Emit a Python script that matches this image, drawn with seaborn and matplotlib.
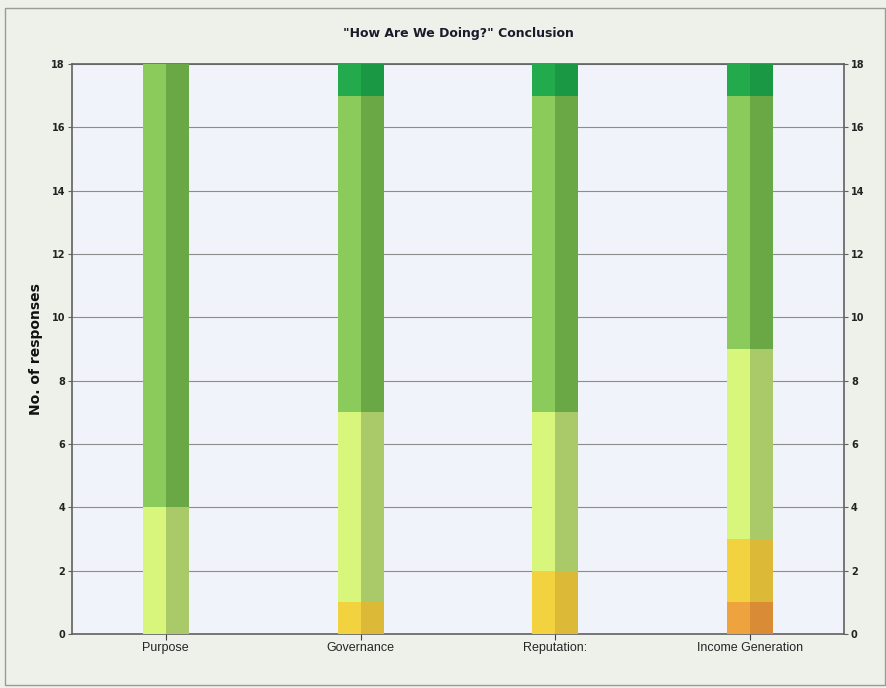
import numpy as np
import pandas as pd
import matplotlib
matplotlib.use("Agg")
import matplotlib.pyplot as plt
import seaborn as sns

categories = ["Purpose", "Governance", "Reputation:", "Income Generation"]
layer_names = ["orange", "yellow", "lightgreen", "green", "darkgreen"]
orange = [0, 0, 0, 1]
yellow = [0, 1, 2, 2]
lightgreen = [4, 6, 5, 6]
green = [14, 10, 10, 8]
darkgreen = [0, 1, 1, 1]
y_ticks = [0, 2, 4, 6, 8, 10, 12, 14, 16, 18]

layer_vals = [orange, yellow, lightgreen, green, darkgreen]
colors_left = ["#eea33e", "#f2d23e", "#d7f67b", "#8acb5c", "#22aa4c"]
colors_right = ["#d98c35", "#dcb937", "#aac968", "#6aa845", "#1b9843"]

sns.set_style("white")
plt.rcParams["font.family"] = ["Liberation Sans", "DejaVu Sans"]

fig = plt.figure(figsize=(8.87, 6.88), dpi=100)
fig.patch.set_facecolor("#eef1ea")
ax = fig.add_axes([72 / 887, 1 - 634 / 688, (844 - 72) / 887, (634 - 64) / 688])
ax.set_facecolor("#f1f3fa")

# outer border
fig.add_artist(plt.Rectangle((5 / 887, 3 / 688), 880 / 887, 677 / 688, transform=fig.transFigure,
                             fill=False, edgecolor="#9a9a9a", linewidth=1.0))

cum = np.cumsum(np.array(layer_vals), axis=0)
for i in range(len(layer_names) - 1, -1, -1):
    rows = []
    for j, c in enumerate(categories):
        rows.append({"cat": c, "half": "L", "val": cum[i][j]})
        rows.append({"cat": c, "half": "R", "val": cum[i][j]})
    df = pd.DataFrame(rows)
    sns.barplot(data=df, x="cat", y="val", hue="half", order=categories, hue_order=["L", "R"],
                palette={"L": colors_left[i], "R": colors_right[i]}, width=0.236, dodge=True,
                saturation=1, legend=False, ax=ax, linewidth=0, errorbar=None, zorder=3)

ax.set_xlim(-0.48, 3.48)
ax.set_ylim(0, 18)
ax.set_yticks(y_ticks)
ax.set_yticklabels([str(t) for t in y_ticks])
ax.grid(axis="y", color="#8c8c8c", linewidth=0.8, zorder=0)
ax.set_axisbelow(True)
for s in ax.spines.values():
    s.set_color("#606060")
    s.set_linewidth(1.2)
ax.tick_params(axis="y", which="both", left=True, right=True, labelleft=True, labelright=True,
               length=3, width=0.8, color="#606060", labelsize=7, pad=2)
ax.tick_params(axis="x", bottom=True, length=4, width=0.8, color="#404040", labelsize=9, pad=2)
for lab in ax.get_yticklabels():
    lab.set_family(["DejaVu Sans"])
    lab.set_fontweight("bold")
    lab.set_color("#222222")
ax.set_xlabel("")
ax.set_ylabel("No. of responses", fontsize=10, fontweight="bold", labelpad=6, color="#111111",
              family=["DejaVu Sans"])
fig.text(0.5 * (72 + 844) / 887, 1 - 33 / 688, "\"How Are We Doing?\" Conclusion", ha="center",
         va="center", fontsize=9, fontweight="bold", color="#1a1a2a", family=["DejaVu Sans"])

fig.savefig("out.png", dpi=100, facecolor=fig.get_facecolor())
